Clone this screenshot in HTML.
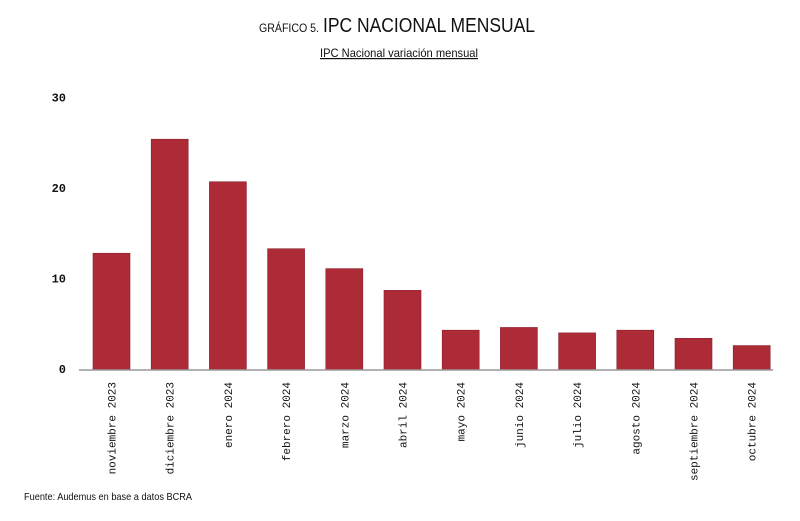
<!DOCTYPE html>
<html><head><meta charset="utf-8"><style>
body{margin:0;background:#fff;width:800px;height:516px;overflow:hidden;font-family:"Liberation Sans",sans-serif}
</style></head><body>
<svg width="800" height="516">
<text x="259" y="32" font-size="12" fill="#111" textLength="60" lengthAdjust="spacingAndGlyphs">GRÁFICO 5.</text>
<text x="323" y="32" font-size="20" fill="#111" textLength="212" lengthAdjust="spacingAndGlyphs">IPC NACIONAL MENSUAL</text>
<text x="320" y="57" font-size="12" fill="#111" textLength="158" lengthAdjust="spacingAndGlyphs" text-decoration="underline">IPC Nacional variación mensual</text>
<g id="ylab"></g>
<g id="bars"></g>
<line x1="79" y1="370" x2="773" y2="370" stroke="#999" stroke-width="1.5"/>
<g id="xlab"></g>
<text x="24" y="500" font-size="10.5" fill="#111" textLength="168" lengthAdjust="spacingAndGlyphs">Fuente: Audemus en base a datos BCRA</text>
</svg>
<script>
const categories=["noviembre 2023","diciembre 2023","enero 2024","febrero 2024","marzo 2024","abril 2024","mayo 2024","junio 2024","julio 2024","agosto 2024","septiembre 2024","octubre 2024"];
const values=[12.9,25.5,20.8,13.4,11.2,8.8,4.4,4.7,4.1,4.4,3.5,2.7];
const yTicks=[0,10,20,30];
const NS="http://www.w3.org/2000/svg";
const y0=370,pxPer=9.05,x0=82.4,band=58.2,bw=37;
const y=v=>y0-v*pxPer, x=i=>x0+i*band+band/2;
const yl=document.getElementById('ylab'),bg=document.getElementById('bars'),xl=document.getElementById('xlab');
yTicks.forEach(t=>{const e=document.createElementNS(NS,'text');


e.setAttribute('x',66);e.setAttribute('y',y(t)+3);e.setAttribute('text-anchor','end');
e.setAttribute('font-family','Liberation Mono, monospace');e.setAttribute('font-size','12');e.setAttribute('font-weight','bold');e.setAttribute('fill','#111');
e.textContent=t;yl.appendChild(e);});
values.forEach((v,i)=>{const r=document.createElementNS(NS,'rect');


r.setAttribute('x',x(i)-bw/2);r.setAttribute('y',y(v));r.setAttribute('width',bw);r.setAttribute('height',y0-y(v));
r.setAttribute('fill','#ad2a37');r.setAttribute('stroke','#8a1f2a');r.setAttribute('stroke-width','0.6');bg.appendChild(r);
const t=document.createElementNS(NS,'text');


t.setAttribute('transform',`translate(${x(i)+4},382) rotate(-90)`);t.setAttribute('text-anchor','end');
t.setAttribute('font-family','Liberation Mono, monospace');t.setAttribute('font-size','11');t.setAttribute('fill','#111');
t.textContent=categories[i];xl.appendChild(t);});
</script>
</body></html>
